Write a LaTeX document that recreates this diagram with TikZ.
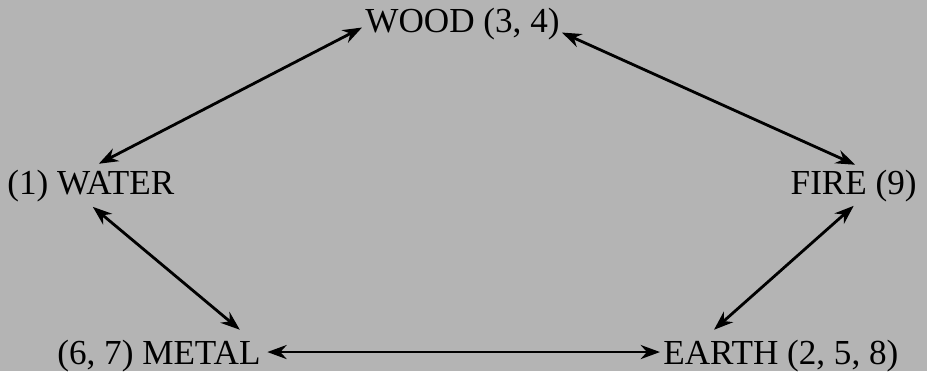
\documentclass[tikz,border=0pt]{standalone}
\usepackage{fontspec}
\setmainfont{Liberation Serif}
\usetikzlibrary{arrows.meta}
\definecolor{paper}{RGB}{180,180,180}

\begin{document}
\begin{tikzpicture}[scale=1,
  elem/.style={inner sep=0pt, font=\fontsize{20}{24}\selectfont},
  link/.style={{Stealth[length=11pt,width=8pt]}-{Stealth[length=11pt,width=8pt]}, line width=1.6pt}]
  \fill[paper] (0,0) rectangle (18.54,7.42);
  \useasboundingbox (0,0) rectangle (18.54,7.42);

  \node[elem, anchor=base west] (wood) at (7.30,6.76) {WOOD (3, 4)};
  \node[elem, anchor=base west] (water) at (0.14,3.52) {(1) WATER};
  \node[elem, anchor=base east] (fire) at (18.34,3.52) {FIRE (9)};
  \node[elem, anchor=base west] (metal) at (1.14,0.14) {(6, 7) METAL};
  \node[elem, anchor=base west] (earth) at (13.26,0.14) {EARTH (2, 5, 8)};

  \draw[link] ([shift={(-0.06,-0.06)}]wood.west) -- ([shift={(0.16,0.13)}]water.north);
  \draw[link] ([shift={(0.04,-0.16)}]wood.east) -- ([shift={(0.03,0.11)}]fire.north);
  \draw[link] ([shift={(0.04,-0.08)}]water.south) -- ([shift={(-0.42,0.19)}]metal.north east);
  \draw[link] ([shift={(0,-0.06)}]fire.south) -- ([shift={(1.02,0.19)}]earth.north west);
  \draw[link] ([shift={(0.13,0.07)}]metal.east) -- ([shift={(-0.06,0.07)}]earth.west);
\end{tikzpicture}
\end{document}
